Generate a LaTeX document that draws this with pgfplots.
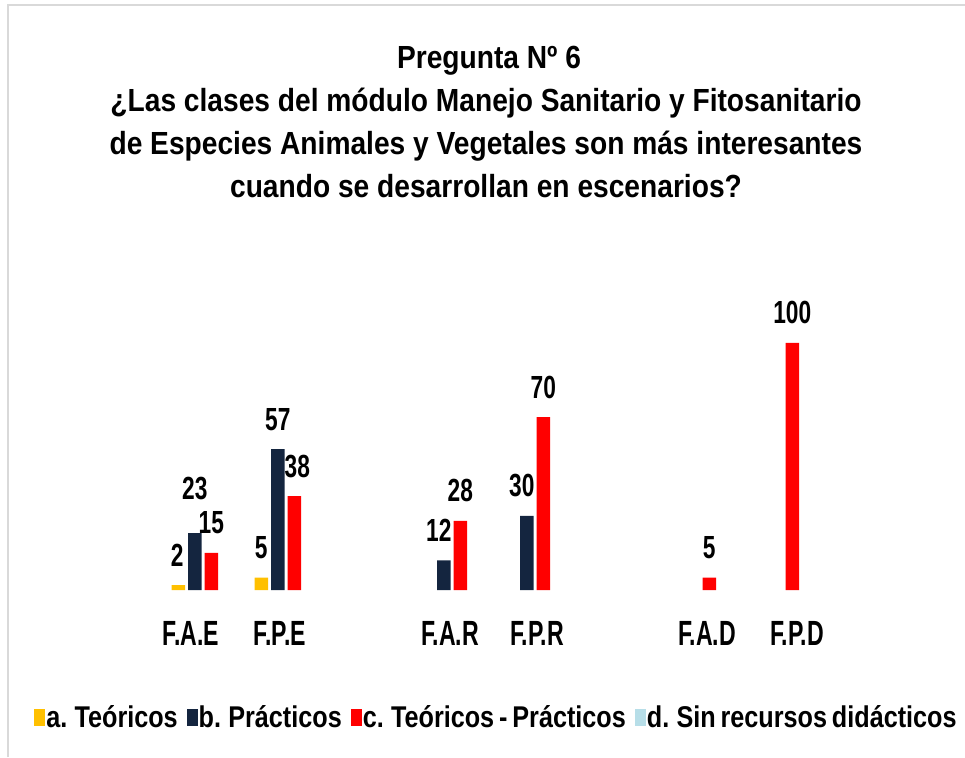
\documentclass[border=0pt]{standalone}
\usepackage{fontspec}
\setmainfont{Liberation Sans}
\newfontfamily\titlef{Liberation Sans}[FakeStretch=0.88]
\newfontfamily\tickf{Liberation Sans}[FakeStretch=0.66]
\newfontfamily\labf{Liberation Sans}[FakeStretch=0.71]
\newfontfamily\legf{Liberation Sans}[FakeStretch=0.84, WordSpace=0.7]
\usepackage{pgfplots}
\usepackage{pgfplotstable}
\pgfplotsset{compat=1.18}
\definecolor{cA}{HTML}{FFC000}
\definecolor{cB}{HTML}{14253F}
\definecolor{cC}{HTML}{FF0000}
\definecolor{cD}{HTML}{B7DEE8}
\pgfplotstableread{
x y dy dx
0 2 19 -1
1 5 19 0
}\tA
\pgfplotstableread{
x y dy dx
0 23 34 0
1 57 19 0
3 12 19 -5
4 30 19 -5
}\tB
\pgfplotstableread{
x y dy dx
0 15 19 0
1 38 19 3
3 28 19 0
4 70 19 0
6 5 19 0
7 100 19 0
}\tC
\begin{document}
\begin{tikzpicture}
\useasboundingbox (0pt,0pt) rectangle (965pt,757pt);
\draw[black!15, line width=1.2pt] (8pt,0pt) -- (8pt,752pt) -- (965pt,752pt);
\node[anchor=base, font=\titlef\bfseries\fontsize{32}{32}\selectfont] at (489pt,688pt) {Pregunta Nº 6};
\node[anchor=base, font=\titlef\bfseries\fontsize{32}{32}\selectfont] at (486pt,645pt) {¿Las clases del módulo Manejo Sanitario y Fitosanitario};
\node[anchor=base, font=\titlef\bfseries\fontsize{32}{32}\selectfont] at (486pt,602pt) {de Especies Animales y Vegetales son más interesantes};
\node[anchor=base, font=\titlef\bfseries\fontsize{32}{32}\selectfont] at (486pt,559pt) {cuando se desarrollan en escenarios?};
\begin{axis}[
  at={(37pt,167pt)}, anchor=south west, scale only axis,
  width=913pt, height=296.4pt,
  xmin=-2, xmax=9, ymin=0, ymax=120,
  ybar, bar width=13.5pt,
  axis x line=bottom, hide y axis,
  x axis line style={draw=none},
  xtick={-0.145,0.928,2.976,4.024,6.072,7.157},
  xticklabels={F.A.E,F.P.E,F.A.R,F.P.R,F.A.D,F.P.D},
  major tick length=0pt,
  xticklabel style={anchor=base, yshift=-55pt, font=\tickf\bfseries\fontsize{35}{35}\selectfont},
  nodes near coords,
  every node near coord/.append style={anchor=base, black, font=\labf\bfseries\fontsize{32}{32}\selectfont},
  /pgf/number format/assume math mode=true,
  clip=false,
  legend columns=4,
  legend style={at={(0.5027,-0.4285)}, anchor=center, draw=none, fill=none,
    font=\legf\bfseries\fontsize{30}{30}\selectfont,
    nodes={inner sep=1pt},
    /tikz/every even column/.append style={column sep=8pt},
    /tikz/every odd column/.append style={column sep=0pt}},
  legend image code/.code={\fill[#1,draw=none] (0pt,-8.5pt) rectangle (11pt,8.5pt);},
]
\addplot[fill=cA, draw=none, bar shift=-24.75pt,
  visualization depends on={\thisrow{dy}\as\dy},
  visualization depends on={\thisrow{dx}\as\dx},
  every node near coord/.append style={yshift=\dy pt, xshift=\dx pt}] table[x=x,y=y]{\tA};
\addlegendentry{a. Teóricos}
\addplot[fill=cB, draw=none, bar shift=-8.25pt,
  visualization depends on={\thisrow{dy}\as\dy},
  visualization depends on={\thisrow{dx}\as\dx},
  every node near coord/.append style={yshift=\dy pt, xshift=\dx pt}] table[x=x,y=y]{\tB};
\addlegendentry{b. Prácticos}
\addplot[fill=cC, draw=none, bar shift=8.25pt,
  visualization depends on={\thisrow{dy}\as\dy},
  visualization depends on={\thisrow{dx}\as\dx},
  every node near coord/.append style={yshift=\dy pt, xshift=\dx pt}] table[x=x,y=y]{\tC};
\addlegendentry{c. Teóricos - Prácticos}
\addlegendimage{fill=cD}
\addlegendentry{d. Sin recursos didácticos}
\end{axis}
\end{tikzpicture}
\end{document}
